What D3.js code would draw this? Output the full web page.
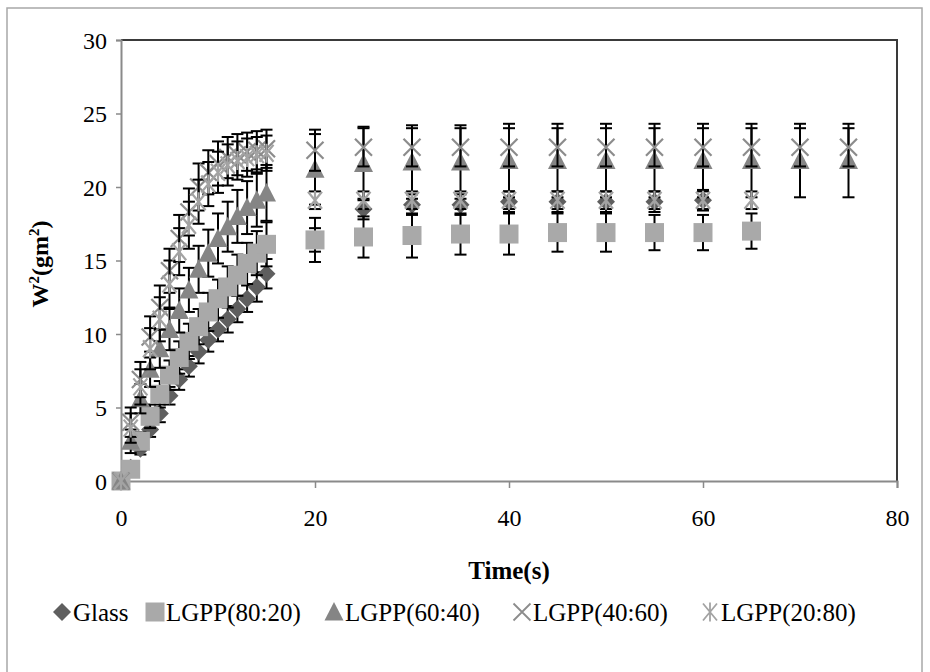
<!DOCTYPE html>
<html>
<head>
<meta charset="utf-8">
<script src="https://cdn.jsdelivr.net/npm/d3@7"></script>
<style>
  body { margin: 0; background: #fff; }
  svg text { font-family: "Liberation Serif", "Times New Roman", serif; fill: #000; }
</style>
</head>
<body>
<svg id="svg" width="930" height="672"></svg>
<script>
// time points (s)
var timeEarly = [0, 1, 2, 3, 4, 5, 6, 7, 8, 9, 10, 11, 12, 13, 14, 15];
var timeLate = [20, 25, 30, 35, 40, 45, 50, 55, 60, 65, 70, 75];

// W^2 values and error bars
var glassY = [0, 0.9, 2.2, 3.5, 4.6, 5.8, 6.9, 7.8, 8.8, 9.6, 10.3, 11.0, 11.7, 12.4, 13.2, 14.1,
              16.4, 18.5, 18.8, 18.8, 19.0, 19.0, 19.0, 19.0, 19.1];
var glassErr = [0, 0.3, 0.4, 0.5, 0.6, 0.6, 0.7, 0.7, 0.8, 0.8, 0.8, 0.9, 0.9, 0.9, 1.0, 1.0,
                0.8, 0.7, 0.7, 0.7, 0.7, 0.7, 0.7, 0.7, 0.7];

var lg8020Y = [0, 0.8, 2.7, 4.4, 5.9, 7.2, 8.4, 9.5, 10.5, 11.5, 12.4, 13.2, 14.0, 14.8, 15.5, 16.1,
               16.4, 16.6, 16.7, 16.8, 16.8, 16.9, 16.9, 16.9, 16.9, 17.0];
var lg8020Err = [0, 0.4, 0.6, 0.8, 0.9, 1.0, 1.1, 1.2, 1.2, 1.3, 1.3, 1.4, 1.4, 1.4, 1.5, 1.5,
                 1.5, 1.4, 1.5, 1.4, 1.4, 1.3, 1.3, 1.2, 1.2, 1.2];

var lg6040Y = [0, 2.7, 5.6, 7.6, 9.0, 10.3, 11.6, 13.0, 14.4, 15.5, 16.5, 17.3, 18.0, 18.6, 19.1, 19.6,
               21.2, 21.6, 21.7, 21.7, 21.8, 21.8, 21.8, 21.8, 21.8, 21.8, 21.8, 21.8];
var lg6040Err = [0, 0.8, 1.0, 1.2, 1.3, 1.4, 1.5, 1.5, 1.6, 1.6, 1.7, 1.7, 1.8, 1.8, 1.8, 1.9,
                 2.4, 2.5, 2.5, 2.5, 2.5, 2.5, 2.5, 2.5, 2.5, 2.5, 2.5, 2.5];

var lg4060Y = [0, 4.0, 6.9, 9.8, 11.8, 14.3, 16.5, 18.3, 20.0, 21.0, 21.6, 22.0, 22.2, 22.4, 22.5, 22.6,
               22.5, 22.7, 22.7, 22.7, 22.7, 22.7, 22.7, 22.7, 22.7, 22.7, 22.7, 22.7];
var lg4060Err = [0, 1.0, 1.2, 1.4, 1.5, 1.5, 1.6, 1.6, 1.6, 1.5, 1.5, 1.4, 1.4, 1.3, 1.3, 1.3,
                 1.4, 1.3, 1.3, 1.3, 1.3, 1.3, 1.3, 1.3, 1.3, 1.3, 1.3, 1.3];

var lg2080Y = [0, 3.6, 6.4, 9.0, 11.0, 13.4, 15.6, 17.4, 19.0, 20.2, 21.0, 21.5, 21.8, 22.0, 22.2, 22.3,
               19.1, 19.1, 19.1, 19.1, 19.1, 19.1, 19.1, 19.1, 19.1, 19.1];
var lg2080Err = [0, 1.0, 1.2, 1.4, 1.5, 1.6, 1.6, 1.6, 1.5, 1.5, 1.4, 1.4, 1.3, 1.3, 1.2, 1.2,
                 0.6, 0.6, 0.6, 0.6, 0.6, 0.6, 0.6, 0.6, 0.6, 0.6];

var seriesNames = ["Glass", "LGPP(80:20)", "LGPP(60:40)", "LGPP(40:60)", "LGPP(20:80)"];
var xTicks = [0, 20, 40, 60, 80];
var yTicks = [0, 5, 10, 15, 20, 25, 30];

var margin = {left: 121, top: 40, right: 33, bottom: 191};
var width = 930 - margin.left - margin.right;
var height = 672 - margin.top - margin.bottom;

var times = timeEarly.concat(timeLate);
function makeSeries(ys, errs) {
    return ys.map((v, i) => ({x: times[i], y: v, e: errs[i]}));
}

var series = [
    {name: seriesNames[0], shape: "diamond", color: "#5f5f5f", data: makeSeries(glassY, glassErr)},
    {name: seriesNames[1], shape: "square", color: "#a9a9a9", data: makeSeries(lg8020Y, lg8020Err)},
    {name: seriesNames[2], shape: "triangle", color: "#858585", data: makeSeries(lg6040Y, lg6040Err)},
    {name: seriesNames[3], shape: "cross", color: "#8c8c8c", data: makeSeries(lg4060Y, lg4060Err)},
    {name: seriesNames[4], shape: "star", color: "#a3a3a3", data: makeSeries(lg2080Y, lg2080Err)}
];

function markerPath(shape) {
    var p = d3.path();
    if (shape == "diamond") {
        var r = 9;
        p.moveTo(0, -r); p.lineTo(r, 0); p.lineTo(0, r); p.lineTo(-r, 0); p.closePath();
    } else if (shape == "square") {
        p.rect(-9.5, -9.5, 19, 19);
    } else if (shape == "triangle") {
        p.moveTo(0, -10); p.lineTo(9.5, 8.5); p.lineTo(-9.5, 8.5); p.closePath();
    } else if (shape == "cross") {
        p.moveTo(-8.5, -8.5); p.lineTo(8.5, 8.5); p.moveTo(8.5, -8.5); p.lineTo(-8.5, 8.5);
    } else {
        p.moveTo(-7, -8.5); p.lineTo(7, 8.5); p.moveTo(7, -8.5); p.lineTo(-7, 8.5);
        p.moveTo(0, -9.5); p.lineTo(0, 9.5);
    }
    return p.toString();
}
function isLine(shape) { return shape == "cross" || shape == "star"; }

var svg = d3.select("#svg");

// outer frame
svg.append("rect")
    .attr("x", 7).attr("y", 8)
    .attr("width", 915).attr("height", 680)
    .attr("fill", "none").attr("stroke", "#a8a8a8").attr("stroke-width", 1.5);

var xScale = d3.scaleLinear().domain([0, 80]).range([0, width]);
var yScale = d3.scaleLinear().domain([0, 30]).range([height, 0]);

var container = svg.append("g").attr("transform", `translate(${margin.left}, ${margin.top})`);

// plot area border (top and right dark)
container.append("path")
    .attr("d", `M0,0H${width}V${height}`)
    .attr("fill", "none").attr("stroke", "#3a3a3a").attr("stroke-width", 2);

// y axis
var yAxis = container.append("g")
    .call(d3.axisLeft(yScale).tickValues(yTicks).tickSize(5).tickPadding(9));
// x axis
var xAxis = container.append("g")
    .attr("transform", `translate(0, ${height})`)
    .call(d3.axisBottom(xScale).tickValues(xTicks).tickSize(7).tickPadding(21));

[xAxis, yAxis].forEach(a => {
    a.select(".domain").attr("stroke", "#8a8a8a").attr("stroke-width", 2);
    a.selectAll(".tick line").attr("stroke", "#8a8a8a").attr("stroke-width", 1.5);
    a.selectAll(".tick text").style("font-size", "24px")
        .style("font-family", "'Liberation Serif', serif").attr("fill", "#222");
});
yAxis.selectAll(".tick text").attr("dy", "0.34em");

// series: error bars first then markers
series.forEach(s => {
    var g = container.append("g");
    var bars = g.selectAll(".eb").data(s.data.filter(d => d.e > 0)).enter().append("g");
    bars.append("line")
        .attr("x1", d => xScale(d.x)).attr("x2", d => xScale(d.x))
        .attr("y1", d => yScale(d.y - d.e)).attr("y2", d => yScale(d.y + d.e))
        .attr("stroke", "#000").attr("stroke-width", 2);
    [-1, 1].forEach(sign => {
        bars.append("line")
            .attr("x1", d => xScale(d.x) - 6).attr("x2", d => xScale(d.x) + 6)
            .attr("y1", d => yScale(d.y + sign * d.e)).attr("y2", d => yScale(d.y + sign * d.e))
            .attr("stroke", "#000").attr("stroke-width", 2);
    });
    g.selectAll(".mk").data(s.data).enter().append("path")
        .attr("transform", d => `translate(${xScale(d.x)}, ${yScale(d.y)})`)
        .attr("d", markerPath(s.shape))
        .attr("fill", isLine(s.shape) ? "none" : s.color)
        .attr("stroke", isLine(s.shape) ? s.color : "none")
        .attr("stroke-width", 2.2);
});

// axis titles
svg.append("text")
    .attr("x", margin.left + width / 2).attr("y", 579)
    .attr("text-anchor", "middle")
    .style("font-size", "25px").style("font-weight", "bold")
    .text("Time(s)");

var yTitle = svg.append("text")
    .attr("transform", "translate(48, 264) rotate(-90)")
    .attr("text-anchor", "middle")
    .style("font-size", "24px").style("font-weight", "bold");
yTitle.append("tspan").text("W");
yTitle.append("tspan").attr("dy", -9).style("font-size", "15px").text("2");
yTitle.append("tspan").attr("dy", 9).text("(gm");
yTitle.append("tspan").attr("dy", -9).style("font-size", "15px").text("2");
yTitle.append("tspan").attr("dy", 9).text(")");

// legend
var legendX = [62, 155, 334, 522, 710];
var legend = svg.append("g");
series.forEach((s, i) => {
    var lg = legend.append("g").attr("transform", `translate(${legendX[i]}, 612)`);
    lg.append("path")
        .attr("d", markerPath(s.shape))
        .attr("fill", isLine(s.shape) ? "none" : s.color)
        .attr("stroke", isLine(s.shape) ? s.color : "none")
        .attr("stroke-width", 1.8);
    lg.append("text")
        .attr("x", 11).attr("y", 9)
        .style("font-size", "25px")
        .text(s.name);
});
</script>
</body>
</html>
